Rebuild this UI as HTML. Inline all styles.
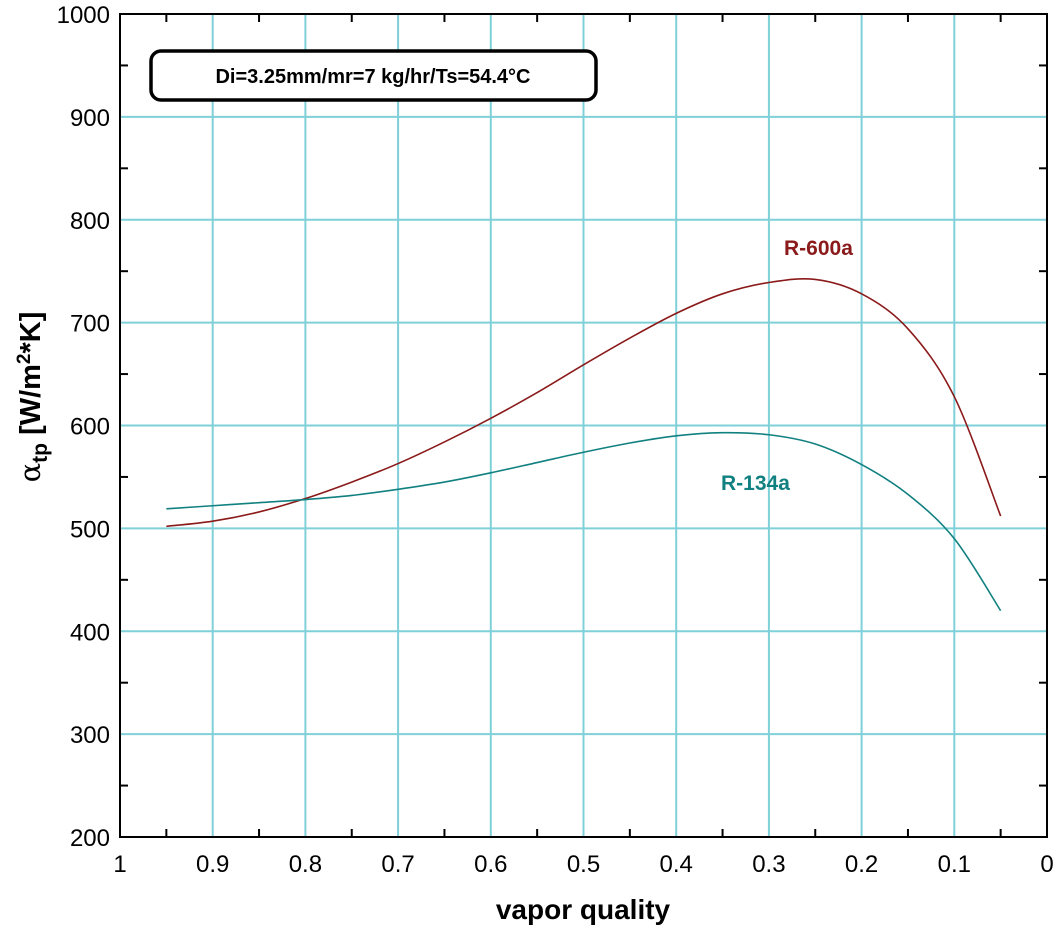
<!DOCTYPE html>
<html><head><meta charset="utf-8"><style>
body{margin:0;background:#fff;width:1055px;height:929px;overflow:hidden}
text{font-family:"Liberation Sans",Arial,sans-serif}
</style></head><body>
<svg id="chart" width="1055" height="929" xmlns="http://www.w3.org/2000/svg">
<g id="grid"></g>
<g id="axes"></g>
<g id="series"></g>
<rect x="151" y="51" width="445" height="49" rx="10" fill="#fff" stroke="#000" stroke-width="3.5"/>
<text x="373" y="83" font-size="20" font-weight="bold" text-anchor="middle">Di=3.25mm/mr=7 kg/hr/Ts=54.4°C</text>
<text x="784" y="255" font-size="21" font-weight="bold" fill="#8b1a1a">R-600a</text>
<text x="721" y="490" font-size="21" font-weight="bold" fill="#118080">R-134a</text>
<text x="583" y="919" font-size="28" font-weight="bold" text-anchor="middle">vapor quality</text>
<text transform="translate(40,397) rotate(-90)" font-size="29" font-weight="bold" text-anchor="middle"><tspan font-family="DejaVu Serif,serif" font-weight="normal">α</tspan><tspan font-size="21" dy="7">tp</tspan><tspan dy="-7"> [W/m</tspan><tspan font-size="19" dy="-10">2</tspan><tspan dy="10">*K]</tspan></text>
</svg>
<script>
const xTicks=[1,0.9,0.8,0.7,0.6,0.5,0.4,0.3,0.2,0.1,0];
const xTickLabels=["1","0.9","0.8","0.7","0.6","0.5","0.4","0.3","0.2","0.1","0"];
const yTicks=[200,300,400,500,600,700,800,900,1000];
const qualities=[0.95,0.9,0.85,0.8,0.75,0.7,0.65,0.6,0.55,0.5,0.45,0.4,0.35,0.3,0.25,0.2,0.15,0.1,0.05];
const r600a=[502,507,516,529,545,563,584,607,632,659,685,709,728,739,742,728,694,628,512];
const r134a=[519,522,525,528,532,538,545,554,564,574,583,590,593,591,582,562,533,490,420];
const L=120,R=1047,T=14,B=837;
function xs(v){return L+(1-v)*(R-L);}
function ys(v){return B-(v-200)/800*(B-T);}
const NS="http://www.w3.org/2000/svg";
function mk(tag,parent,attrs){const e=document.createElementNS(NS,tag);for(const k in attrs)e.setAttribute(k,attrs[k]);parent.appendChild(e);return e;}
const grid=document.getElementById('grid'),axes=document.getElementById('axes'),ser=document.getElementById('series');
xTicks.forEach((v,i)=>{
 if(v>0&&v<1){const g=mk('line',grid,{x1:xs(v),x2:xs(v),y1:T,y2:B,stroke:'#7fd0d8','stroke-width':2});
 
 }
 const t=mk('text',axes,{x:xs(v),y:B+35,'font-size':24,'text-anchor':'middle'});t.textContent=xTickLabels[i];
 
 
});
yTicks.forEach(v=>{
 if(v>200&&v<1000){const g=mk('line',grid,{x1:L,x2:R,y1:ys(v),y2:ys(v),stroke:'#7fd0d8','stroke-width':2});
 
 }
 const t=mk('text',axes,{x:L-10,y:ys(v)+9,'font-size':24,'text-anchor':'end'});t.textContent=String(v);
 
 
});
for(let i=0;i<10;i++){const v=0.05+i*0.1;
 mk('line',axes,{x1:xs(v),x2:xs(v),y1:B,y2:B-8,stroke:'#000','stroke-width':2});
 mk('line',axes,{x1:xs(v),x2:xs(v),y1:T,y2:T+8,stroke:'#000','stroke-width':2});}
for(let i=0;i<8;i++){const v=250+i*100;
 mk('line',axes,{x1:L,x2:L+8,y1:ys(v),y2:ys(v),stroke:'#000','stroke-width':2});
 mk('line',axes,{x1:R,x2:R-8,y1:ys(v),y2:ys(v),stroke:'#000','stroke-width':2});}
const fr=mk('rect',axes,{x:L,y:T,width:R-L,height:B-T,fill:'none',stroke:'#000','stroke-width':2});


function path(vals){const p=qualities.map((q,i)=>[xs(q),ys(vals[i])]);let d='M'+p[0][0]+','+p[0][1];
 for(let i=0;i<p.length-1;i++){const p0=p[i-1]||p[i],p1=p[i],p2=p[i+1],p3=p[i+2]||p2;
 d+=' C'+(p1[0]+(p2[0]-p0[0])/6)+','+(p1[1]+(p2[1]-p0[1])/6)+' '+(p2[0]-(p3[0]-p1[0])/6)+','+(p2[1]-(p3[1]-p1[1])/6)+' '+p2[0]+','+p2[1];}
 return d;}
const a=mk('path',ser,{d:path(r600a),fill:'none',stroke:'#8b1a1a','stroke-width':1.6});


const b=mk('path',ser,{d:path(r134a),fill:'none',stroke:'#118080','stroke-width':1.6});


</script>
</body></html>
